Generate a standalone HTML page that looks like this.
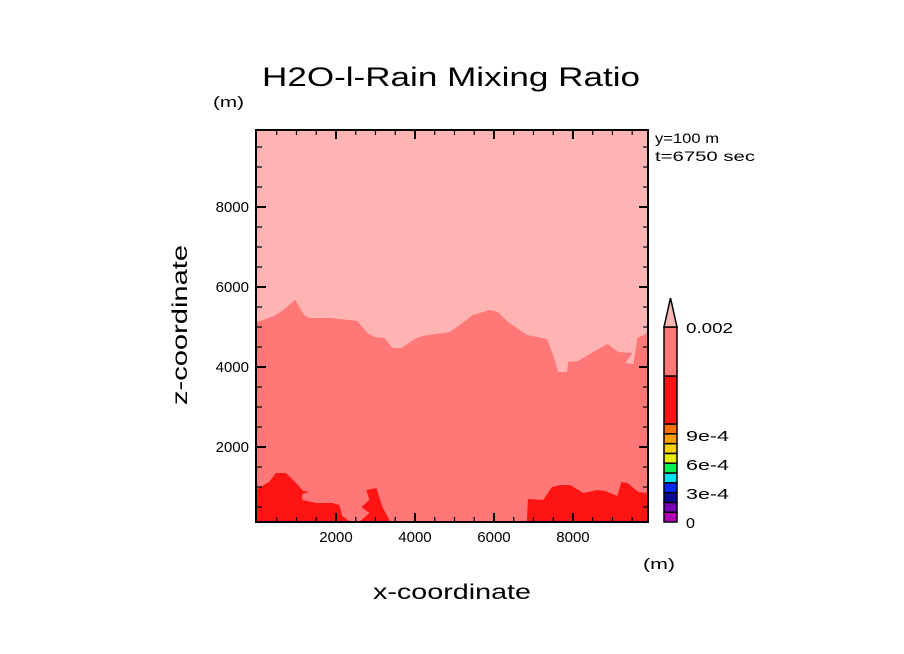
<!DOCTYPE html>
<html><head><meta charset="utf-8"><style>
html,body{margin:0;padding:0;background:#fff;}
svg{display:block;font-family:"Liberation Sans",sans-serif;}
</style></head><body>
<svg id="chart" width="904" height="654" viewBox="0 0 904 654">
<text x="262" y="86" font-size="27" textLength="378" lengthAdjust="spacingAndGlyphs">H2O-l-Rain Mixing Ratio</text>
<text x="213" y="107" font-size="15" textLength="31" lengthAdjust="spacingAndGlyphs">(m)</text>
<text x="643" y="569" font-size="15" textLength="32" lengthAdjust="spacingAndGlyphs">(m)</text>
<text x="373" y="599" font-size="21" textLength="158" lengthAdjust="spacingAndGlyphs">x-coordinate</text>
<text x="0" y="0" font-size="21" textLength="160" lengthAdjust="spacingAndGlyphs" transform="translate(187,405) rotate(-90)">z-coordinate</text>
<text x="655" y="143" font-size="14" textLength="64" lengthAdjust="spacingAndGlyphs">y=100 m</text>
<text x="655" y="161" font-size="14" textLength="100" lengthAdjust="spacingAndGlyphs">t=6750 sec</text>
<g id="plot"></g>
<g id="axes"></g>
<g id="cbar"></g>
</svg>
<script>
// contour boundary between 0.002+ (light) and medium band, metres
const upperX=[0,430,635,965,1195,1320,1880,2540,2795,2975,3230,3430,3660,3990,4195,4880,5135,5465,5895,6100,6355,6835,7345,7495,7625,7850,7880,8130,8515,8870,9150,9505,9325,9530,9630,9900];
const upperZ=[5125,5275,5400,5675,5300,5225,5225,5150,4850,4750,4725,4475,4475,4700,4775,4875,5050,5300,5425,5375,5125,4800,4700,4300,3875,3875,4125,4150,4375,4575,4375,4350,4100,4075,4725,4850];
// red (low) band patches
const redLeftX=[0,305,480,735,990,1170,1320,1145,1145,1500,1905,2085,2160,2340,2390,0];
const redLeftZ=[950,1125,1350,1350,1100,900,875,825,675,600,600,550,275,150,125,125];
const redMidX=[2590,2845,2645,2845,2770,3025,3175,3380];
const redMidZ=[125,350,500,675,925,975,500,125];
const redRightX=[6835,6860,7245,7470,7675,7930,8260,8615,8820,9125,9225,9380,9655,9900,9900];
const redRightZ=[125,700,675,1000,1050,1050,850,925,900,775,1125,1100,875,850,125];
const xTicks=[2000,4000,6000,8000];
const yTicks=[2000,4000,6000,8000];
const cbLevels=["0","3e-4","6e-4","9e-4","0.002"];
const cbColors=["#b400b4","#7800b4","#0a0a96","#0028ff","#00e1f0","#00f050","#e6f000","#ffd200","#ffa000","#ff6e00","#ff1414","#ff7777"];

const X0=0,X1=9900,Z0=125,Z1=9925,L=257,R=648,T=130,B=522;
const sx=v=>L+(v-X0)/(X1-X0)*(R-L);
const sy=v=>B-(v-Z0)/(Z1-Z0)*(B-T);
const NS="http://www.w3.org/2000/svg";
function mk(tag,attrs,parent){const e=document.createElementNS(NS,tag);for(const k in attrs)e.setAttribute(k,attrs[k]);parent.appendChild(e);return e;}
const plot=document.getElementById('plot'),axes=document.getElementById('axes'),cb=document.getElementById('cbar');
let e=mk('rect',{x:L,y:T,width:R-L,height:B-T,fill:'#ffb4b4'},plot);


let pts=upperX.map((x,i)=>sx(x)+','+sy(upperZ[i])).join(' ')+' '+sx(X1)+','+B+' '+sx(X0)+','+B;
e=mk('polygon',{points:pts,fill:'#ff7777'},plot);


[[redLeftX,redLeftZ,'red-patch-left'],[redMidX,redMidZ,'red-patch-middle'],[redRightX,redRightZ,'red-patch-right']].forEach(([xs,zs,n])=>{
  e=mk('polygon',{points:xs.map((x,i)=>sx(x)+','+sy(zs[i])).join(' '),fill:'#ff1414'},plot);
  
  
});
for(let v=500;v<X1;v+=500){const maj=v%2000===0,len=maj?9:5;
  mk('line',{x1:sx(v),x2:sx(v),y1:B,y2:B-len,stroke:'#000','stroke-width':maj?2:1.2},axes);
  mk('line',{x1:sx(v),x2:sx(v),y1:T,y2:T+len,stroke:'#000','stroke-width':maj?2:1.2},axes);}
for(let v=500;v<Z1;v+=500){const maj=v%2000===0,len=maj?9:5;
  mk('line',{x1:L,x2:L+len,y1:sy(v),y2:sy(v),stroke:'#000','stroke-width':maj?2:1.2},axes);
  mk('line',{x1:R,x2:R-len,y1:sy(v),y2:sy(v),stroke:'#000','stroke-width':maj?2:1.2},axes);}
xTicks.forEach(v=>{e=mk('text',{x:sx(v),y:B+20,'font-size':15,'text-anchor':'middle'},axes);e.textContent=v;
  
  });
yTicks.forEach(v=>{e=mk('text',{x:L-8,y:sy(v)+5,'font-size':15,'text-anchor':'end'},axes);e.textContent=v;
  
  });
e=mk('rect',{x:L-1,y:T,width:R-L+1,height:B-T,fill:'none',stroke:'#000','stroke-width':2},axes);


const cx=664,cw=13,cbot=522,smallH=9.8,ctop=327;
let y=cbot;
cbColors.forEach((c,i)=>{let h=i<10?smallH:(i===10?48:49);
  if(i===11)h=y-ctop;
  e=mk('rect',{x:cx,y:y-h,width:cw,height:h,fill:c,stroke:'#000','stroke-width':1.5},cb);
  
  
  y-=h;});
e=mk('polygon',{points:`${cx},${ctop} ${cx+cw/2},298 ${cx+cw},${ctop}`,fill:'#ffb4b4',stroke:'#000','stroke-width':1.5},cb);


const lblY=[522,493,464,435,327];
const lblW=[9,43,43,43,47];
cbLevels.forEach((t,i)=>{e=mk('text',{x:686,y:lblY[i]+6,'font-size':15,textLength:lblW[i],lengthAdjust:'spacingAndGlyphs'},cb);e.textContent=t;
  
  });
</script>
</body></html>
